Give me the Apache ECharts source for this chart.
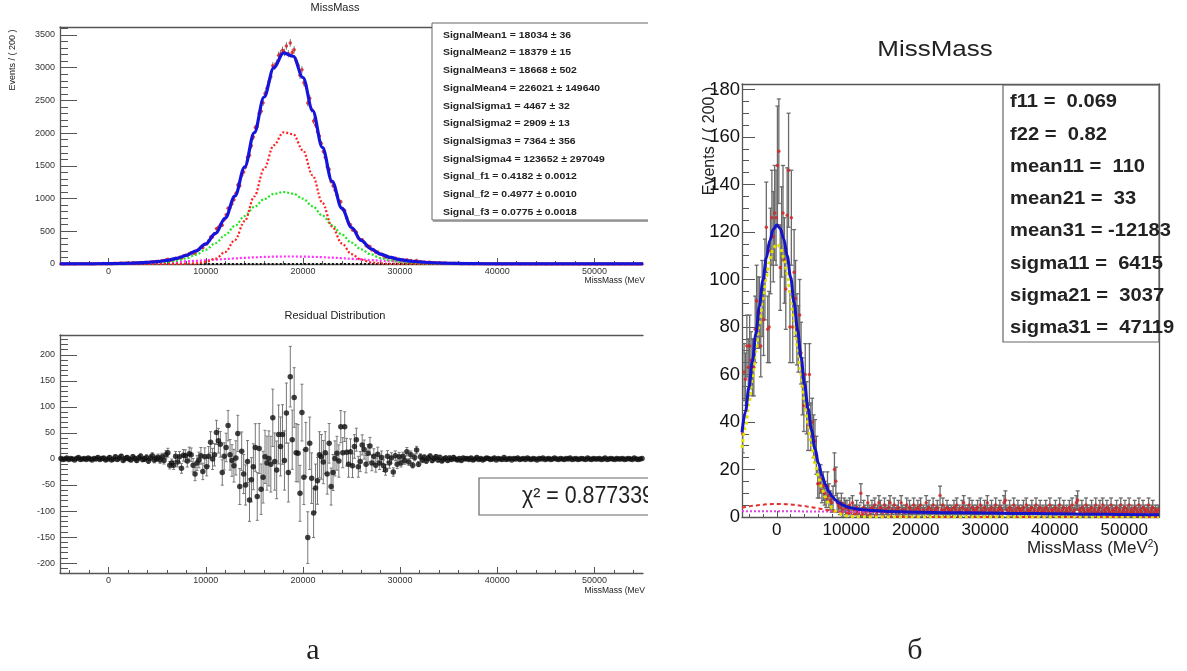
<!DOCTYPE html>
<html><head><meta charset="utf-8">
<script src="https://cdn.jsdelivr.net/npm/echarts@6/dist/echarts.min.js"></script>
<style>html,body{margin:0;padding:0;background:#fff}#c{width:1187px;height:671px}</style>
</head><body><div id="c"></div>
<script>
// ---------- binning ----------
const binWidth = 200;          // MeV^2 per bin ("Events / ( 200 )")
const firstBinCentre = -4900;
const xMin = -5000, xMax = 55000;

// ---------- panel а (top): counts per bin ----------
const topCounts = [
 2,1,1,4,1,3,2,0,3,5,2,3,4,2,5,3,1,5,4,7,3,5,6,2,5,
 9,4,7,11,7,10,14,6,11,14,12,11,18,16,13,19,24,19,22,26,21,30,36,31,37,
 41,40,49,46,62,71,52,62,65,88,85,103,89,124,133,134,160,171,165,164,202,226,255,247,299,
 306,355,413,414,457,538,562,600,594,677,751,853,861,919,983,1079,1209,1195,1355,1406,1483,1630,1661,1806,1939,
 2085,2101,2303,2334,2465,2604,2687,2786,2860,3029,3020,3069,3192,3210,3265,3233,3332,3214,3379,3232,3273,3107,3036,2884,2969,
 2770,2728,2459,2535,2363,2186,2124,2023,1958,1840,1719,1632,1486,1445,1262,1194,1131,1056,961,952,832,817,708,630,599,
 520,514,487,398,373,372,334,279,276,268,215,210,177,183,152,150,123,104,120,97,99,65,89,67,74,
 54,63,51,64,41,52,29,41,52,23,34,26,29,20,25,26,17,19,21,14,18,10,13,14,8,
 13,9,13,9,6,9,4,9,6,7, 5,7,3,5,7,3,5,2,3,5, 4,2,3,4,0,3,2,1,5,1, 2,3,0,3,2,3,0,1,2,0,
 3,1,0,2,1,0,2,1,3,0, 1,2,0,1,3,1,0,2,1,0, 2,1,3,0,1,2,0,1,2,1, 0,3,1,0,2,1,1,2,0,1,
 3,0,1,2,1,0,2,1,1,2, 0,1,2,1,0,3,1,0,1,2
];
// ---------- panel а (bottom): residuals per bin ----------
const residuals = [
 1,-1,0,2,-1,1,0,-2,1,3,-1,0,1,-1,2,0,-2,1,0,3,-1,1,2,-2,0,
 3,-2,0,4,-1,2,5,-3,1,3,0,-2,4,1,-3,2,5,-1,0,3,-4,2,6,-2,1,
 3,-2,4,-3,8,12,-12,-8,-12,5,-6,4,-18,7,6,-4,10,8,-12,-29,-8,-2,6,-24,4,
 -15,5,32,0,8,51,35,28,-26,5,22,64,8,-3,-13,2,49,-53,15,-29,-50,-5,-79,-40,-15,
 22,-72,20,-58,-35,4,-8,1,-10,79,-5,-21,47,24,47,-3,88,-26,158,37,118,12,11,-66,89,
 -35,18,-151,30,-37,-104,-56,-42,8,4,-6,12,-29,30,-53,-26,1,11,-4,62,12,62,13,-10,14,
 -13,24,37,-15,-5,27,18,-10,11,25,-8,5,-12,9,-8,3,-13,-21,5,-8,2,-25,6,-10,4,
 -8,5,-3,14,-6,8,-12,3,17,-10,4,-2,3,-4,2,5,-3,1,4,-2,3,-4,0,2,-3,
 2,-1,3,0,-2,1,-3,2,0,1, -1,2,-2,0,3,-1,1,-2,0,2, 1,-1,0,2,-2,1,0,-1,3,-1, 0,1,-2,1,0,2,-1,0,1,-1,
 2,0,-1,1,0,-2,1,0,2,-1, 0,1,-1,0,2,0,-1,1,0,-1, 1,0,2,-1,0,1,-1,0,1,0, -1,2,0,-1,1,0,0,1,-1,0,
 2,-1,0,1,0,-1,1,0,0,1, -1,0,1,0,-1,2,0,-1,0,1
];
// ---------- panel а fit curves (sampled every 1000) ----------
const fitX = [-5000,-4000,-3000,-2000,-1000,0,1000,2000,3000,4000,5000,6000,7000,8000,9000,10000,11000,12000,13000,14000,15000,16000,17000,18000,19000,20000,21000,22000,23000,24000,25000,26000,27000,28000,29000,30000,31000,32000,33000,34000,35000,36000,37000,38000,39000,40000,41000,42000,43000,44000,45000,46000,47000,48000,49000,50000,51000,52000,53000,54000,55000];
const fitTotal = [1.3,1.6,2.1,2.8,3.9, 5.5,7.9,11.2,16.4,24.3, 36.7,56,86,132,202, 308,467,701,1036,1481, 2008,2552,2999,3228,3175, 2850,2345,1781,1264,854, 558,361,233,152,100, 66.5,45,31.3,22,15.6, 11.2,8.1,5.8,4.3,3.1, 2.3,1.8,1.4,1.1,0.9, 0.8,0.7,0.7,0.7,0.7, 0.7,0.7,0.7,0.7,0.7, 0.7];
const fitSig1 = [0,0,0,0,0, 0.3,0.8,1.7,3.8,7.9, 15.5,29,52,88,142, 218,318,441,583,732, 873,991,1071,1100,1075, 998,882,742,593,451, 326,224,147,91,54, 30,16,8.3,4,1.8, 0.8,0.3,0.1,0,0, 0,0,0,0,0, 0,0,0,0,0, 0,0,0,0,0, 0];
const fitSig2 = [0,0,0,0,0, 0,0,0,0,0, 0,0.2,1,3.5,11, 32,81,183,367,654, 1033,1453,1815,2013,1984, 1738,1353,935,574,314, 152,66,25,8.5,2.6, 0.7,0.2,0,0,0, 0,0,0,0,0, 0,0,0,0,0, 0,0,0,0,0, 0,0,0,0,0, 0];
const fitSig3 = [0.7,1.0,1.5,2.2,3.3, 4.6,6.5,8.9,12,15.8, 20.6,26.2,32.8,40.3,48.6, 57.5,66.9,76.3,85.5,94, 101.6,107.7,112.1,114.5,114.9, 113.1,109.4,103.8,96.7,88.4, 79.5,70.2,60.7,51.6,43, 35.2,28.3,22.4,17.4,13.2, 9.8,7.2,5.2,3.7,2.5, 1.7,1.2,0.8,0.5,0.3, 0.2,0.1,0.1,0,0, 0,0,0,0,0, 0];
const fitSig4X = [-5000, 55000];
const fitSig4 = [0.6, 0.6];

// ---------- panel б: counts and errors per bin ----------
const rightCounts = [
 35,61,58,72,63,72,66,63,63,79, 91,86,86,72,92,83,100,122,79,80, 112,126,118,128,126,
 148,154,105,120,128,108,96,127,146,80, 126,80,103,92,79,75,85,69,55,47, 60,46,38,60,38,
 40,34,32,26,14,14,16,11,13,10, 8,13,9,7,6,8,20,15,6,5, 4,6,3,5,4,
 4,3,5,2,6,3,3,4,2,3,10,2,4,3,2,6,3,2,4,3,5,2,3,6,4,
 3,2,5,3,2,4,6,2,3,5,2,3,4,2,6,3,2,3,5,2,4,3,2,5,3,
 2,4,3,5,2,3,2,6,3,4,2,3,5,2,3,4,2,9,3,5,3,2,4,3,2,
 3,2,4,3,5,2,3,2,4,6,3,2,3,5,2,4,3,2,3,4,2,5,3,2,4,
 3,6,2,3,4,2,3,5,2,3,4,3,2,6,7,3,2,4,3,2,5,3,2,4,3,
 2,3,4,2,5,3,2,3,4,2,3,5,2,3,4,2,3,2,4,3,2,5,3,2,3,
 4,2,3,5,2,3,4,2,3,2,4,3,5,2,3,6,7,3,2,4,3,2,5,3,2,
 3,4,2,3,5,2,3,4,2,5,3,2,4,3,2,5,3,2,3,4,2,3,5,2,3,
 4,2,3,5,2,3,2,4,3,2,5,3,2,4,3,2,3,5,2,3,4,2,3,2,3
];
const rightErrors = [
 8,12,11,13,12,13,12,12,12,14, 15,15,15,13,16,15,17,19,14,15, 18,20,19,20,20,
 25,22,18,19,20,18,17,20,24,15, 20,15,18,16,15,14,15,13,12,11, 13,11,10,13,10,
 10,9,9,8,6,6,6,5,6,5, 4,6,5,4,4,5,7,6,4,3, 3,4,3,3,3,
 3,2,3,2,3,2,2,3,2,2,4,2,3,2,2,3,2,2,3,2,3,2,2,3,3,
 2,2,3,2,2,3,3,2,2,3,2,2,3,2,3,2,2,2,3,2,3,2,2,3,2,
 2,3,2,3,2,2,2,3,2,3,2,2,3,2,2,3,2,4,2,3,2,2,3,2,2,
 2,2,3,2,3,2,2,2,3,3,2,2,2,3,2,3,2,2,2,3,2,3,2,2,3,
 2,3,2,2,3,2,2,3,2,2,3,2,2,3,4,2,2,3,2,2,3,2,2,3,2,
 2,2,3,2,3,2,2,2,3,2,2,3,2,2,3,2,2,2,3,2,2,3,2,2,2,
 3,2,2,3,2,2,3,2,2,2,3,2,3,2,2,3,4,2,2,3,2,2,3,2,2,
 2,3,2,2,3,2,2,3,2,3,2,2,3,2,2,3,2,2,2,3,2,2,3,2,2,
 3,2,2,3,2,2,2,3,2,2,3,2,2,3,2,2,2,3,2,2,3,2,2,2,2
];
// ---------- panel б fit curves ----------
const rFitX = [-5000,-4500,-4000,-3500,-3000,-2500,-2000,-1500,-1000,-500,0,500,1000,1500,2000,2500,3000,3500,4000,4500,5000,5500,6000,6500,7000,7500,8000,8500,9000,9500,10000,10500,11000,11500,12000,14000,16000,20000,25000,30000,35000,40000,45000,50000,55000];
const rFitTotal = [35.6,44.4,54.5,65.7,77.1,88.7,99.6,109.0,116.4,121.1, 122.9,121.5,117.2,110.1,100.9,90.2,78.7,67.1,55.9,45.7, 36.7,28.9,22.6,17.6,13.7,10.7,8.6,7.0,5.9,5.0, 4.4,4.0,3.7,3.4,3.2, 2.7,2.35,2.0,1.83,1.67,1.51,1.35,1.20,1.05,0.90];
const rFitMain = [29.1,37.7,47.6,58.5,69.8,81.2,91.9,101.2,108.5,113.2, 115,113.6,109.3,102.3,93.2,82.7,71.4,59.9,49.0,39.0, 30.2,22.7,16.7,11.9,8.3,5.6,3.7,2.4,1.5,0.9, 0.5,0.3,0.15,0.08,0.04, 0,0,0,0,0,0,0,0,0,0];
const rFitWide = [4.0,4.25,4.48,4.69,4.89,5.06,5.21,5.33,5.42,5.48, 5.5,5.49,5.45,5.37,5.27,5.13,4.97,4.78,4.58,4.36, 4.11,3.87,3.61,3.35,3.09,2.83,2.58,2.33,2.10,1.88, 1.67,1.48,1.30,1.14,0.99, 0.53,0.26,0.045,0,0,0,0,0,0,0];
const rFitFlat = [2.47,2.47,2.46,2.46,2.45,2.45,2.44,2.44,2.43,2.42, 2.42,2.41,2.40,2.40,2.39,2.38,2.37,2.37,2.36,2.35, 2.34,2.33,2.32,2.31,2.30,2.29,2.28,2.27,2.26,2.25, 2.24,2.22,2.21,2.20,2.19, 2.14,2.09,1.98,1.83,1.67,1.51,1.35,1.20,1.05,0.90];

// ---------- texts ----------
const paramsLeft = ['SignalMean1 = 18034 \u00b1 36','SignalMean2 = 18379 \u00b1 15','SignalMean3 = 18668 \u00b1 502','SignalMean4 = 226021 \u00b1 149640','SignalSigma1 = 4467 \u00b1 32','SignalSigma2 = 2909 \u00b1 13','SignalSigma3 = 7364 \u00b1 356','SignalSigma4 = 123652 \u00b1 297049','Signal_f1 = 0.4182 \u00b1 0.0012','Signal_f2 = 0.4977 \u00b1 0.0010','Signal_f3 = 0.0775 \u00b1 0.0018'];
const paramsRight = ['f11 =  0.069','f22 =  0.82','mean11 =  110','mean21 =  33','mean31 = -12183','sigma11 =  6415','sigma21 =  3037','sigma31 =  47119'];
const chi2Text = '\u03c7\u00b2 = 0.877339';

// ---------- ticks ----------
function range(a, b, s) { const r = []; for (let v = a; v <= b + 1e-9; v += s) r.push(+v.toFixed(6)); return r; }
const xMajor = range(0, 50000, 10000);
const xMinor = range(-4000, 54000, 2000);
const topYMajor = range(0, 3500, 500), topYMinor = range(0, 3600, 100);
const resYMajor = range(-200, 200, 50), resYMinor = range(-210, 230, 10);
const rYMajor = range(0, 180, 20), rYMinor = range(0, 180, 5);

const binCentres = topCounts.map((_, i) => firstBinCentre + i * binWidth);

// ---------- helpers ----------
const FONT = 'Liberation Sans, Arial, sans-serif';
function errRender(cap, color, lw) {
  return function (params, api) {
    const x = api.value(0), y = api.value(1), e = api.value(2);
    if (!(e > 0)) return null;
    const a = api.coord([x, y - e]), b = api.coord([x, y + e]);
    const st = { stroke: color, lineWidth: lw };
    const ch = [{ type: 'line', shape: { x1: a[0], y1: a[1], x2: b[0], y2: b[1] }, style: st }];
    if (cap > 0) {
      ch.push({ type: 'line', shape: { x1: a[0] - cap, y1: a[1], x2: a[0] + cap, y2: a[1] }, style: st });
      ch.push({ type: 'line', shape: { x1: b[0] - cap, y1: b[1], x2: b[0] + cap, y2: b[1] }, style: st });
    }
    return { type: 'group', children: ch };
  };
}
function pairs(xs, ys) { return xs.map((x, i) => [x, ys[i]]); }
function lineSeries(xi, yi, xs, ys, color, width, type, z) {
  return { type: 'line', xAxisIndex: xi, yAxisIndex: yi, data: pairs(xs, ys), showSymbol: false, symbol: 'none',
    smooth: 0.35, smoothMonotone: 'x', lineStyle: { color, width, type }, z, silent: true, clip: true };
}
function xAxes(gi, labelSize, labelColor, majorLen, minorLen, margin) {
  const base = { type: 'value', gridIndex: gi, min: xMin, max: xMax, splitLine: { show: false } };
  return [
    Object.assign({}, base, { position: 'bottom',
      axisLine: { show: true, onZero: false, lineStyle: { color: '#555', width: 1.3 } },
      axisTick: { show: true, inside: true, length: majorLen, customValues: xMajor, lineStyle: { color: '#555' } },
      axisLabel: { show: true, customValues: xMajor, formatter: v => String(v), fontSize: labelSize, color: labelColor, fontFamily: FONT, margin } }),
    Object.assign({}, base, { position: 'bottom', axisLine: { show: false, onZero: false },
      axisTick: { show: true, inside: true, length: minorLen, customValues: xMinor, lineStyle: { color: '#555' } },
      axisLabel: { show: false } }),
    Object.assign({}, base, { position: 'top', axisLine: { show: true, onZero: false, lineStyle: { color: '#555', width: 1.3 } },
      axisTick: { show: false }, axisLabel: { show: false } })
  ];
}
function yAxes(gi, min, max, major, minor, labelSize, labelColor, majorLen, minorLen, margin) {
  const base = { type: 'value', gridIndex: gi, min, max, splitLine: { show: false } };
  return [
    Object.assign({}, base, { position: 'left',
      axisLine: { show: true, onZero: false, lineStyle: { color: '#555', width: 1.3 } },
      axisTick: { show: true, inside: true, length: majorLen, customValues: major, lineStyle: { color: '#555' } },
      axisLabel: { show: true, customValues: major, formatter: v => String(v), fontSize: labelSize, color: labelColor, fontFamily: FONT, margin } }),
    Object.assign({}, base, { position: 'left', axisLine: { show: false, onZero: false },
      axisTick: { show: true, inside: true, length: minorLen, customValues: minor, lineStyle: { color: '#555' } },
      axisLabel: { show: false } })
  ];
}

const chart = echarts.init(document.getElementById('c'), null, { renderer: 'canvas' });

const topData = topCounts.map((c, i) => [binCentres[i], c, Math.sqrt(c)]);
const resData = residuals.map((r, i) => [binCentres[i], r, Math.sqrt(topCounts[i])]);
const rData = rightCounts.map((c, i) => [binCentres[i], c, rightErrors[i]]);

const yAx = [].concat(
  yAxes(0, 0, 3622, topYMajor, topYMinor, 9, '#333', 17, 8, 5),
  yAxes(1, -219, 238, resYMajor, resYMinor, 9, '#333', 17, 8, 5),
  yAxes(2, 0, 182.3, rYMajor, rYMinor, 18.5, '#111', 13, 7, 2),
  [{ type: 'value', gridIndex: 2, min: 0, max: 182.3, position: 'right', axisLine: { show: true, onZero: false, lineStyle: { color: '#555', width: 1.3 } }, axisTick: { show: false }, axisLabel: { show: false }, splitLine: { show: false } }]
);
const xAx = [].concat(
  xAxes(0, 9, '#333', 6, 3, 3),
  xAxes(1, 9, '#333', 6, 3, 3),
  xAxes(2, 17, '#111', 6, 3, 5)
);

const graphics = [];
function txt(x, y, text, font, align, vAlign, extra) {
  graphics.push(Object.assign({ type: 'text', x, y, silent: true, z: 100,
    style: { text, font, fill: '#222', textAlign: align || 'left', textVerticalAlign: vAlign || 'middle' } }, extra || {}));
}
// panel а top
txt(335, 8, 'MissMass', '11px ' + FONT, 'center');
txt(13, 60, 'Events / ( 200 )', '9px ' + FONT, 'center', 'middle', { rotation: Math.PI / 2 });
txt(645, 281, 'MissMass (MeV', '8.5px ' + FONT, 'right');
graphics.push({ type: 'rect', shape: { x: 432, y: 23, width: 230, height: 197 }, style: { fill: '#fff', stroke: '#666', lineWidth: 1 }, z: 99, silent: true });
graphics.push({ type: 'line', shape: { x1: 433, y1: 221, x2: 660, y2: 221 }, style: { stroke: '#888', lineWidth: 1.5 }, z: 99, silent: true });
paramsLeft.forEach((t, i) => txt(443, 35 + i * 17.73, t, 'bold 9.5px ' + FONT, 'left', 'middle', { scaleX: 1.1 }));
// panel а bottom
txt(335, 316, 'Residual Distribution', '11px ' + FONT, 'center');
txt(645, 591, 'MissMass (MeV', '8.5px ' + FONT, 'right');
graphics.push({ type: 'polyline', shape: { points: [[660, 478], [479, 478], [479, 515], [660, 515]] }, style: { fill: '#fff', stroke: '#666', lineWidth: 1.2 }, z: 99, silent: true });
txt(522, 497, chi2Text, '23px ' + FONT, 'left', 'middle', { scaleX: 0.93 });
// blank margin right of the cropped left figure
graphics.push({ type: 'rect', shape: { x: 648, y: 0, width: 45, height: 620 }, style: { fill: '#fff' }, z: 101, silent: true });
// panel б
txt(935, 50, 'MissMass', '22px ' + FONT, 'center', 'middle', { scaleX: 1.18 });
txt(710, 141, 'Events / ( 200 )', '16px ' + FONT, 'center', 'middle', { rotation: Math.PI / 2 });
graphics.push({ type: 'text', x: 1159, y: 548, silent: true, z: 100,
  style: { text: 'MissMass (MeV{s|2})', font: '17px ' + FONT, fill: '#222', textAlign: 'right', textVerticalAlign: 'middle',
    rich: { s: { fontSize: 10, verticalAlign: 'top', padding: [0, 0, 8, 0], fill: '#222', fontFamily: FONT } } } });
graphics.push({ type: 'rect', shape: { x: 1003, y: 85, width: 156, height: 257 }, style: { fill: 'rgba(255,255,255,0)', stroke: '#666', lineWidth: 1.2 }, z: 99, silent: true });
paramsRight.forEach((t, i) => txt(1010, 102.3 + i * 32.3, t, 'bold 18px ' + FONT, 'left', 'middle', { scaleX: 1.12 }));
// sub-figure letters
txt(313, 651, '\u0430', '30px Liberation Serif, serif', 'center');
txt(915, 651, '\u0431', '30px Liberation Serif, serif', 'center');

const series = [
  // panel а top
  { type: 'custom', xAxisIndex: 0, yAxisIndex: 0, data: topData, renderItem: errRender(0, '#777', 1), z: 1, clip: true, silent: true, encode: { x: 0, y: 1 } },
  { type: 'scatter', xAxisIndex: 0, yAxisIndex: 0, data: topData.map(d => [d[0], d[1]]), symbolSize: 3.5, itemStyle: { color: '#e01818' }, z: 2, silent: true },
  lineSeries(0, 0, fitSig4X, fitSig4, '#111', 2, [2, 2], 3),
  lineSeries(0, 0, fitX, fitSig3, '#ff30ff', 2.2, [2, 2], 3),
  lineSeries(0, 0, fitX, fitSig1, '#22e622', 2.2, [2, 2], 3),
  lineSeries(0, 0, fitX, fitSig2, '#ff2020', 2.2, [2, 2], 3),
  lineSeries(0, 0, fitX, fitTotal, '#1414dc', 3.2, 'solid', 4),
  // panel а bottom
  { type: 'custom', xAxisIndex: 3, yAxisIndex: 2, data: resData, renderItem: errRender(1.5, '#777', 1), z: 1, clip: true, silent: true, encode: { x: 0, y: 1 } },
  { type: 'scatter', xAxisIndex: 3, yAxisIndex: 2, data: resData.map(d => [d[0], d[1]]), symbolSize: 5.5, itemStyle: { color: '#111' }, z: 2, silent: true },
  // panel б
  { type: 'custom', xAxisIndex: 6, yAxisIndex: 4, data: rData, renderItem: errRender(2, '#6a6a6a', 1.3), z: 1, clip: true, silent: true, encode: { x: 0, y: 1 } },
  { type: 'scatter', xAxisIndex: 6, yAxisIndex: 4, data: rData.map(d => [d[0], d[1]]), symbolSize: 3.5, itemStyle: { color: '#d42020' }, z: 2, silent: true },
  lineSeries(6, 4, rFitX, rFitFlat, '#e040e0', 2, [2, 2], 3),
  lineSeries(6, 4, rFitX, rFitWide, '#e03030', 2, [4, 3], 3),
  lineSeries(6, 4, rFitX, rFitMain, '#e2e200', 3, [3, 3], 3),
  lineSeries(6, 4, rFitX, rFitTotal, '#1515c8', 3, 'solid', 4)
];

chart.setOption({
  animation: false,
  backgroundColor: '#fff',
  grid: [
    { left: 60, top: 27, width: 583, height: 237, show: false },
    { left: 60, top: 335, width: 583, height: 238, show: false },
    { left: 742, top: 84, width: 417, height: 433, show: false }
  ],
  xAxis: xAx,
  yAxis: yAx,
  series,
  graphic: graphics
});
</script>
</body></html>
